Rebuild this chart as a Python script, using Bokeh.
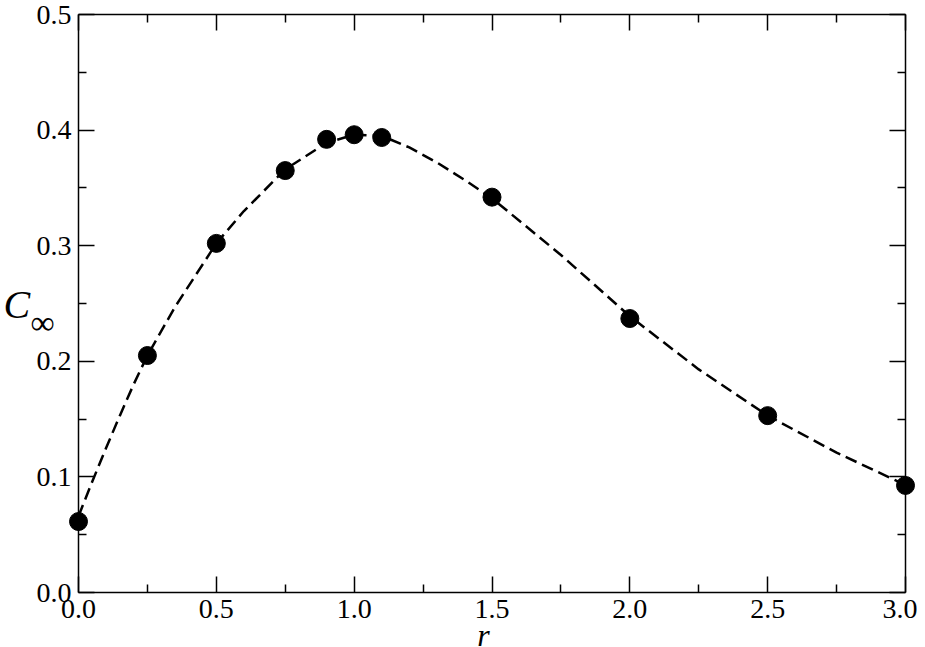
from bokeh.plotting import figure
from bokeh.models import LinearAxis, Label, FixedTicker, Range1d, PrintfTickFormatter
from bokeh.embed import file_html
from bokeh.resources import INLINE

# measured points
r_pts = [0.0, 0.25, 0.5, 0.75, 0.9, 1.0, 1.1, 1.5, 2.0, 2.5, 3.0]
c_pts = [0.0614, 0.205, 0.302, 0.365, 0.392, 0.396, 0.3936, 0.342, 0.237, 0.153, 0.0926]

# dashed fit curve
r_fit = [0.0, 0.05, 0.1, 0.15, 0.2, 0.25, 0.35, 0.5, 0.6, 0.75, 0.9, 1.0, 1.1,
         1.2, 1.3, 1.4, 1.5, 1.75, 2.0, 2.25, 2.5, 2.75, 3.0]
c_fit = [0.066, 0.096, 0.125, 0.153, 0.180, 0.205, 0.247, 0.302, 0.330, 0.366, 0.389,
         0.396, 0.395, 0.385, 0.372, 0.357, 0.341, 0.292, 0.239, 0.193, 0.153, 0.121, 0.093]

x_ticks = [0.0, 0.5, 1.0, 1.5, 2.0, 2.5, 3.0]
y_ticks = [0.0, 0.1, 0.2, 0.3, 0.4, 0.5]
x_minor = [0.25, 0.75, 1.25, 1.75, 2.25, 2.75]
y_minor = [0.05, 0.15, 0.25, 0.35, 0.45]
X_LIM = (0.0, 3.0)
Y_LIM = (0.0, 0.5)

FONT = "Liberation Serif"

# canvas layout (pixels): plot box from (78,14) to (905,592)
W, H = 917, 647
BOX_L, BOX_R, BOX_T, BOX_B = 78, 905, 14, 592
sx = (BOX_R - BOX_L) / (X_LIM[1] - X_LIM[0])
sy = (BOX_B - BOX_T) / (Y_LIM[1] - Y_LIM[0])
x_range = Range1d(X_LIM[0] - BOX_L / sx, X_LIM[1] + (W - BOX_R) / sx)
y_range = Range1d(Y_LIM[0] - (H - BOX_B) / sy, Y_LIM[1] + BOX_T / sy)

p = figure(width=W, height=H, output_backend="svg", toolbar_location=None,
           x_range=x_range, y_range=y_range, x_axis_location=None, y_axis_location=None,
           min_border=0, min_border_left=0, min_border_right=0,
           min_border_top=0, min_border_bottom=0,
           background_fill_color="white", border_fill_color="white")
p.grid.visible = False
p.outline_line_color = None

def make_axis(xt, labels, loc):
    ax = LinearAxis(fixed_location=loc)
    ax.ticker = FixedTicker(ticks=x_ticks if xt else y_ticks,
                            minor_ticks=x_minor if xt else y_minor)
    ax.bounds = X_LIM if xt else Y_LIM
    ax.formatter = PrintfTickFormatter(format="%.1f")
    ax.major_tick_in = 16
    ax.major_tick_out = 0
    ax.minor_tick_in = 8
    ax.minor_tick_out = 0
    ax.axis_line_color = "black"
    ax.axis_line_width = 1.5
    ax.major_tick_line_width = 1.5
    ax.minor_tick_line_width = 1.5
    ax.major_tick_line_color = "black"
    ax.minor_tick_line_color = "black"
    ax.major_label_text_font = FONT
    ax.major_label_text_color = "black"
    ax.major_label_text_font_size = "28px" if labels else "0px"
    ax.major_label_standoff = 7 if labels else 0
    return ax

p.add_layout(make_axis(True, True, Y_LIM[0]), "below")
p.add_layout(make_axis(False, True, X_LIM[0]), "left")
p.add_layout(make_axis(True, False, Y_LIM[1]), "above")
p.add_layout(make_axis(False, False, X_LIM[1]), "right")

p.line(r_fit, c_fit, line_color="black", line_width=2.5, line_dash="12 6")
p.scatter(r_pts, c_pts, size=18, fill_color="black", line_color="black")

def px_to_x(px):
    return X_LIM[0] + (px - BOX_L) / sx

def py_to_y(py):
    return Y_LIM[0] + (BOX_B - py) / sy

p.add_layout(Label(x=px_to_x(3), y=py_to_y(304), text="C",
                   text_font=FONT, text_font_style="italic", text_font_size="40px",
                   text_color="black", text_baseline="alphabetic"))
p.add_layout(Label(x=px_to_x(30), y=py_to_y(322), text="∞",
                   text_font=FONT, text_font_size="34px",
                   text_color="black", text_baseline="alphabetic"))
p.add_layout(Label(x=px_to_x(483), y=py_to_y(634), text="r",
                   text_font=FONT, text_font_style="italic", text_font_size="32px",
                   text_color="black", text_baseline="alphabetic", text_align="center"))

open("out.html", "w").write(file_html(p, INLINE))
